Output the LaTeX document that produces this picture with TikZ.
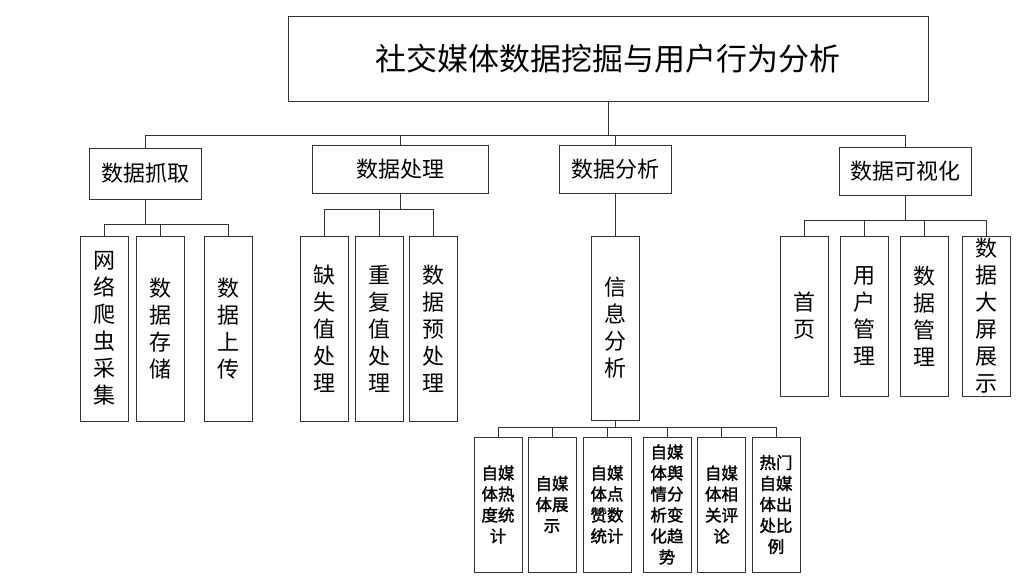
\documentclass[tikz,border=0pt]{standalone}
\usepackage{fontspec}
\setmainfont{Noto Sans CJK SC}
\newfontfamily\cjkbold{Noto Sans CJK SC}[FakeBold=1.6]
\tikzset{
  box/.style={draw=black!80, line width=0.9pt, fill=white, inner sep=0pt, align=center},
  vbox/.style={box, minimum width=48pt, font=\fontsize{22}{27}\selectfont},
  sbox/.style={box, minimum width=48pt, minimum height=135pt, font=\cjkbold\fontsize{16.5}{21}\selectfont},
  link/.style={draw=black!80, line width=0.9pt}
}
\begin{document}
\begin{tikzpicture}[x=1pt,y=-1pt]
\useasboundingbox (0,0) rectangle (1028,586);
% title
\node[box, minimum width=640pt, minimum height=85pt, font=\fontsize{31}{36}\selectfont] (title) at (608,58.5) {社交媒体数据挖掘与用户行为分析};
% level 1
\node[box, minimum width=112pt, minimum height=51pt, font=\fontsize{22}{26}\selectfont] (n1) at (145,173.5) {数据抓取};
\node[box, minimum width=176pt, minimum height=48pt, font=\fontsize{22}{26}\selectfont] (n2) at (400,169) {数据处理};
\node[box, minimum width=112pt, minimum height=48pt, font=\fontsize{22}{26}\selectfont] (n3) at (615,169) {数据分析};
\node[box, minimum width=132pt, minimum height=48pt, font=\fontsize{22}{26}\selectfont] (n4) at (905,171) {数据可视化};
% level 2
\node[vbox, minimum height=185pt] (a1) at (104,328.5) {网\\络\\爬\\虫\\采\\集};
\node[vbox, minimum height=185pt] (a2) at (160.5,328.5) {数\\据\\存\\储};
\node[vbox, minimum height=185pt] (a3) at (228.5,328.5) {数\\据\\上\\传};
\node[vbox, minimum height=185pt] (b1) at (324.5,328.5) {缺\\失\\值\\处\\理};
\node[vbox, minimum height=185pt] (b2) at (379.5,328.5) {重\\复\\值\\处\\理};
\node[vbox, minimum height=185pt] (b3) at (433.5,328.5) {数\\据\\预\\处\\理};
\node[vbox, minimum height=184pt] (c1) at (615,328) {信\\息\\分\\析};
\node[vbox, minimum height=160pt] (d1) at (804,316) {首\\页};
\node[vbox, minimum height=160pt] (d2) at (864,316) {用\\户\\管\\理};
\node[vbox, minimum height=160pt] (d3) at (924,316) {数\\据\\管\\理};
\node[vbox, minimum height=160pt] (d4) at (986,316) {数\\据\\大\\屏\\展\\示};
% level 3
\node[sbox] (e1) at (498,504.5) {自媒\\体热\\度统\\计};
\node[sbox] (e2) at (552,504.5) {自媒\\体展\\示};
\node[sbox] (e3) at (607,504.5) {自媒\\体点\\赞数\\统计};
\node[sbox] (e4) at (667,504.5) {自媒\\体舆\\情分\\析变\\化趋\\势};
\node[sbox] (e5) at (721.5,504.5) {自媒\\体相\\关评\\论};
\node[sbox] (e6) at (776,504.5) {热门\\自媒\\体出\\处比\\例};
% connectors
\foreach \c in {n1,n2,n3,n4} \draw[link] (title.south) -- ++(0,34) -| (\c.north);
\foreach \c in {a1,a2,a3} \draw[link] (n1.south) -- ++(0,25) -| (\c.north);
\foreach \c in {b1,b2,b3} \draw[link] (n2.south) -- ++(0,16) -| (\c.north);
\draw[link] (n3.south) -- (c1.north);
\foreach \c in {d1,d2,d3,d4} \draw[link] (n4.south) -- ++(0,25) -| (\c.north);
\foreach \c in {e1,e2,e3,e4,e5,e6} \draw[link] (c1.south) -- ++(0,7) -| (\c.north);
\end{tikzpicture}
\end{document}
